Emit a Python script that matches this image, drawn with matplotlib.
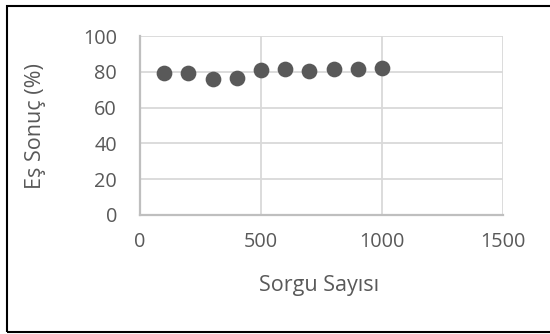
import matplotlib
matplotlib.use("Agg")
import matplotlib.pyplot as plt
from matplotlib.patches import Rectangle

# Sorgu sayısına göre eş sonuç oranı
sorgu_sayisi = [100, 200, 300, 400, 500, 600, 700, 800, 900, 1000]
es_sonuc = [79.5, 79.6, 76.2, 76.3, 81.0, 81.5, 80.2, 81.4, 81.5, 82.0]
x_ticks = [0, 500, 1000, 1500]
y_ticks = [0, 20, 40, 60, 80, 100]

plt.rcParams['font.family'] = ['Open Sans', 'DejaVu Sans']
text_color = '#595959'

fig = plt.figure(figsize=(5.5, 3.34), dpi=100)
ax = fig.add_axes([0.2545, 0.3563, 0.66, 0.5357])

ax.scatter(sorgu_sayisi, es_sonuc, s=128, color='#595959', zorder=3, linewidths=0)

ax.set_xlim(0, 1500)
ax.set_ylim(0, 100)
ax.set_xticks(x_ticks)
ax.set_yticks(y_ticks)
ax.grid(True, color='#d9d9d9', linewidth=1.3)
ax.set_axisbelow(True)
ax.tick_params(length=0, labelsize=14.3, labelcolor=text_color)
ax.tick_params(axis='x', pad=12)
ax.tick_params(axis='y', pad=16.5)

for side in ['top', 'right']:
    ax.spines[side].set_visible(False)
for side in ['left', 'bottom']:
    ax.spines[side].set_color('#bfbfbf')
    ax.spines[side].set_linewidth(1.6)

ax.set_xlabel('Sorgu Sayısı', fontsize=15.5, color=text_color)
ax.set_ylabel('Eş Sonuç (%)', fontsize=15.5, color=text_color)
ax.xaxis.set_label_coords(0.492, -0.335)
ax.yaxis.set_label_coords(-0.26, 0.497)

# Dış çerçeve
fig.patches.append(Rectangle((7 / 550, 2 / 334), 1.0, 326 / 334, transform=fig.transFigure,
                             fill=False, edgecolor='black', linewidth=1.5))

fig.savefig('out.png', dpi=100)
